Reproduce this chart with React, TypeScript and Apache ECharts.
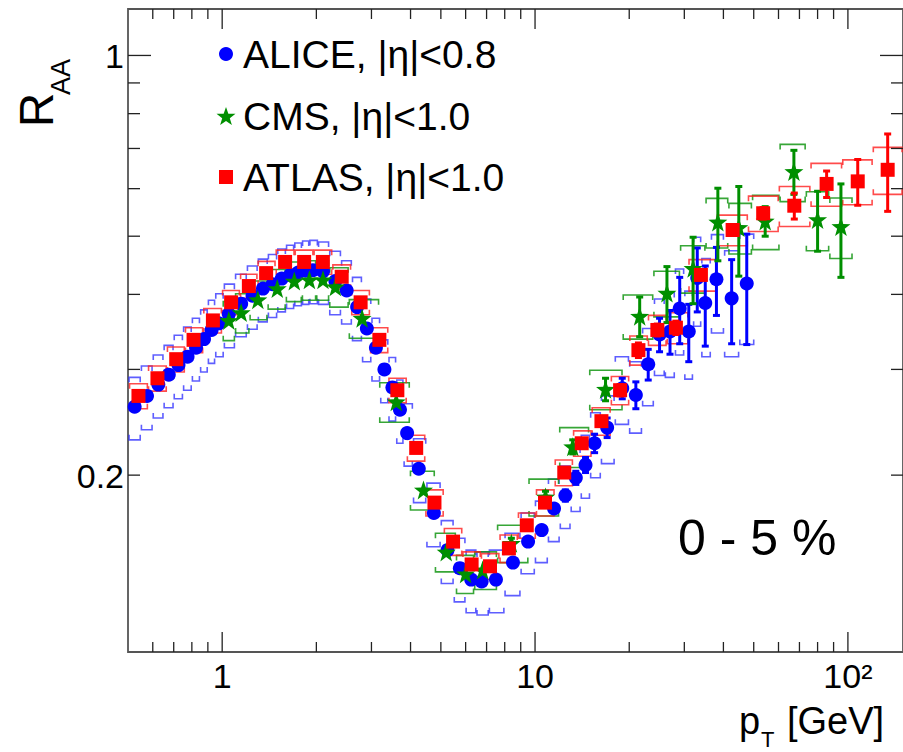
import React, { useEffect, useRef } from 'react';
import * as echarts from 'echarts';

const FONT = '"Liberation Sans", Arial, Helvetica, sans-serif';

// ---------------- data ----------------
const aliceName = 'ALICE, |η|<0.8';
const cmsName = 'CMS, |η|<1.0';
const atlasName = 'ATLAS, |η|<1.0';

const alicePt = [0.525, 0.575, 0.625, 0.675, 0.725, 0.775, 0.825, 0.875, 0.925, 0.975,
  1.05, 1.15, 1.25, 1.35, 1.45, 1.55, 1.65, 1.75, 1.85, 1.95,
  2.1, 2.3, 2.5, 2.7, 2.9, 3.1, 3.3, 3.5, 3.7, 3.9,
  4.25, 4.75, 5.25, 5.75, 6.25, 6.75,
  7.5, 8.5, 9.5, 10.5, 11.5, 12.5, 13.5, 14.5, 15.5,
  17, 19, 21, 23, 25, 27, 29, 31, 33, 35, 38, 42.5, 47.5];
const aliceRaa = [0.260, 0.271, 0.283, 0.294, 0.305, 0.315, 0.326, 0.337, 0.349, 0.358,
  0.371, 0.386, 0.398, 0.409, 0.416, 0.425, 0.431, 0.435, 0.438, 0.439,
  0.437, 0.421, 0.406, 0.381, 0.351, 0.326, 0.300, 0.280, 0.257, 0.235,
  0.205, 0.173, 0.150, 0.140, 0.134, 0.133,
  0.134, 0.143, 0.155, 0.162, 0.176, 0.185, 0.198, 0.208, 0.226,
  0.240, 0.279, 0.272, 0.306, 0.343, 0.347, 0.379, 0.347, 0.426, 0.387, 0.424, 0.394, 0.417];
const aliceStat = [0, 0, 0, 0, 0, 0, 0, 0, 0, 0,
  0, 0, 0, 0, 0, 0, 0, 0, 0, 0,
  0, 0, 0, 0, 0, 0, 0, 0, 0, 0,
  0, 0, 0, 0, 0, 0,
  0, 0, 0, 0, 0, 0.004, 0.005, 0.006, 0.008,
  0.009, 0.011, 0.014, 0.018, 0.022, 0.029, 0.048, 0.038, 0.052, 0.059, 0.055, 0.063, 0.087];
const aliceSys = [0.031, 0.033, 0.034, 0.035, 0.037, 0.038, 0.039, 0.040, 0.042, 0.043,
  0.045, 0.046, 0.048, 0.049, 0.050, 0.051, 0.052, 0.052, 0.053, 0.053,
  0.052, 0.051, 0.049, 0.046, 0.042, 0.039, 0.036, 0.034, 0.031, 0.028,
  0.025, 0.021, 0.018, 0.017, 0.016, 0.016,
  0.016, 0.017, 0.018, 0.019, 0.021, 0.022, 0.024, 0.025, 0.028,
  0.031, 0.036, 0.037, 0.045, 0.050, 0.056, 0.062, 0.058, 0.072, 0.072, 0.079, 0.079, 0.087];

const cmsPt = [1.05, 1.15, 1.3, 1.5, 1.7, 1.9, 2.1, 2.3, 2.8, 3.6, 4.4, 5.2, 6.0, 6.8,
  8.4, 10.8, 13.2, 16.8, 21.6, 26.4, 32, 38.4, 44.8, 54.4, 67.2, 80, 95];
const cmsRaa = [0.362, 0.373, 0.392, 0.409, 0.421, 0.423, 0.423, 0.412, 0.365, 0.265, 0.189, 0.149, 0.137, 0.139,
  0.154, 0.184, 0.223, 0.278, 0.368, 0.402, 0.442, 0.528, 0.517, 0.530, 0.641, 0.533, 0.519];
const cmsStat = [0, 0, 0, 0, 0, 0, 0, 0, 0, 0, 0, 0, 0, 0,
  0.003, 0.004, 0.006, 0.012, 0.028, 0.043, 0.056, 0.073, 0.088, 0.030, 0.054, 0.061, 0.092];
const cmsSys = [0.027, 0.028, 0.029, 0.031, 0.032, 0.032, 0.032, 0.031, 0.027, 0.020, 0.014, 0.011, 0.010, 0.010,
  0.011, 0.013, 0.017, 0.021, 0.031, 0.035, 0.040, 0.050, 0.050, 0.055, 0.070, 0.060, 0.060];

const atlasPt = [0.54, 0.621, 0.713, 0.81, 0.934, 1.068, 1.217, 1.382, 1.589, 1.828, 2.098, 2.41, 2.77, 3.18, 3.63,
  4.17, 4.77, 5.47, 6.27, 7.18, 8.25, 9.41, 10.76, 12.4, 14.1, 16.3, 18.7, 21.4, 24.6, 28.2, 33.9,
  42.8, 53.6, 67.4, 85.5, 107.5, 134];
const atlasRaa = [0.271, 0.290, 0.312, 0.336, 0.362, 0.388, 0.413, 0.434, 0.453, 0.453, 0.453, 0.428, 0.388, 0.336, 0.277,
  0.222, 0.180, 0.155, 0.142, 0.141, 0.151, 0.165, 0.180, 0.202, 0.226, 0.246, 0.277, 0.323, 0.349, 0.352, 0.431,
  0.512, 0.546, 0.562, 0.611, 0.617, 0.645];
const atlasStat = [0, 0, 0, 0, 0, 0, 0, 0, 0, 0, 0, 0, 0, 0, 0,
  0, 0, 0, 0, 0, 0, 0, 0, 0, 0, 0, 0.006, 0.009, 0.008, 0.009, 0.008,
  0.010, 0.012, 0.028, 0.031, 0.054, 0.095];
const atlasSys = [0.013, 0.014, 0.015, 0.016, 0.017, 0.018, 0.019, 0.020, 0.021, 0.021, 0.021, 0.020, 0.018, 0.016, 0.013,
  0.011, 0.009, 0.008, 0.007, 0.007, 0.008, 0.008, 0.009, 0.010, 0.011, 0.013, 0.015, 0.018, 0.020, 0.021, 0.026,
  0.030, 0.037, 0.043, 0.050, 0.053, 0.058];

const xMajorTicks = [1, 10, 100];
const xMinorTicks = [0.6, 0.7, 0.8, 0.9, 2, 3, 4, 5, 6, 7, 8, 9, 20, 30, 40, 50, 60, 70, 80, 90];
const xLabelValues = [1, 10, 100];
const xTickLabels = ['1', '10', '10²'];
const yMajorTicks = [1];
const yMinorTicks = [0.2, 0.3, 0.4, 0.5, 0.6, 0.7, 0.8, 0.9];
const yLabelValues = [0.2, 1];
const yTickLabels = ['0.2', '1'];

const X_MIN = 0.5, X_MAX = 150, Y_MIN = 0.1015, Y_MAX = 1.195;

const STAR = 'path://M0,-10 L2.35,-3.24 L9.51,-3.09 L3.8,1.24 L5.88,8.09 L0,4 L-5.88,8.09 L-3.8,1.24 L-9.51,-3.09 L-2.35,-3.24 Z';

const BLUE = '#0000ff', GREEN = '#008f00', RED = '#ff0000';
const BLUE_SYS = 'rgba(40,40,255,0.75)', GREEN_SYS = 'rgba(20,150,20,0.85)', RED_SYS = 'rgba(255,30,30,0.8)';

function edges(pts: number[]) {
  return pts.map((p, i) => {
    const prev = i > 0 ? pts[i - 1] : (p * p) / pts[i + 1];
    const next = i < pts.length - 1 ? pts[i + 1] : (p * p) / pts[i - 1];
    return [Math.sqrt(prev * p), Math.sqrt(p * next)];
  });
}

function sysData(pt: number[], r: number[], s: number[]) {
  const e = edges(pt);
  return pt.map((p, i) => [p, r[i], s[i], e[i][0], e[i][1]]);
}

function statData(pt: number[], r: number[], s: number[]) {
  return pt.map((p, i) => [p, r[i], s[i]]).filter((d) => d[2] > 0);
}

const makeSysRender = (color: string) => (params: any, api: any) => {
  const r = api.value(1), s = api.value(2), lo = api.value(3), hi = api.value(4);
  const a = api.coord([lo, r + s]), b = api.coord([hi, r + s]);
  const c = api.coord([lo, r - s]), d = api.coord([hi, r - s]);
  const leg = 5;
  const x0 = a[0] + 0.6, x1 = b[0] - 0.6;
  const st = { stroke: color, fill: 'none', lineWidth: 1.6 };
  return {
    type: 'group',
    children: [
      { type: 'polyline', shape: { points: [[x0, a[1] + leg], [x0, a[1]], [x1, b[1]], [x1, b[1] + leg]] }, style: st },
      { type: 'polyline', shape: { points: [[x0, c[1] - leg], [x0, c[1]], [x1, d[1]], [x1, d[1] - leg]] }, style: st },
    ],
  };
};

const makeStatRender = (color: string) => (params: any, api: any) => {
  const x = api.value(0), r = api.value(1), e = api.value(2);
  const t = api.coord([x, r + e]), b = api.coord([x, r - e]);
  const cap = 3.5;
  const st = { stroke: color, lineWidth: 3 };
  return {
    type: 'group',
    children: [
      { type: 'line', shape: { x1: t[0], y1: t[1], x2: b[0], y2: b[1] }, style: st },
      { type: 'line', shape: { x1: t[0] - cap, y1: t[1], x2: t[0] + cap, y2: t[1] }, style: st },
      { type: 'line', shape: { x1: b[0] - cap, y1: b[1], x2: b[0] + cap, y2: b[1] }, style: st },
    ],
  };
};

const TICK = { stroke: '#222', lineWidth: 1.3 };

const xTickRender = (params: any, api: any) => {
  const v = api.value(0), major = api.value(2);
  const b = api.coord([v, Y_MIN]), t = api.coord([v, Y_MAX]);
  const L = major ? 20 : 10;
  return {
    type: 'group',
    children: [
      { type: 'line', shape: { x1: b[0], y1: b[1], x2: b[0], y2: b[1] - L }, style: TICK },
      { type: 'line', shape: { x1: t[0], y1: t[1], x2: t[0], y2: t[1] + L }, style: TICK },
    ],
  };
};

const yTickRender = (params: any, api: any) => {
  const v = api.value(1), major = api.value(2);
  const l = api.coord([X_MIN, v]), r = api.coord([X_MAX, v]);
  const L = major ? 23 : 12;
  return {
    type: 'group',
    children: [
      { type: 'line', shape: { x1: l[0], y1: l[1], x2: l[0] + L, y2: l[1] }, style: TICK },
      { type: 'line', shape: { x1: r[0], y1: r[1], x2: r[0] - L, y2: r[1] }, style: TICK },
    ],
  };
};

const xLabelRender = (params: any, api: any) => {
  const p = api.coord([api.value(0), Y_MIN]);
  return {
    type: 'text', x: p[0], y: p[1] + 24,
    style: {
      text: xTickLabels[params.dataIndex], fontSize: 34, fontFamily: FONT, fill: '#000',
      align: 'center', verticalAlign: 'middle', textAlign: 'center', textVerticalAlign: 'middle',
    },
  };
};

const yLabelRender = (params: any, api: any) => {
  const p = api.coord([X_MIN, api.value(1)]);
  return {
    type: 'text', x: p[0] - 4, y: p[1] + 1,
    style: {
      text: yTickLabels[params.dataIndex], fontSize: 34, fontFamily: FONT, fill: '#000',
      align: 'right', verticalAlign: 'middle', textAlign: 'right', textVerticalAlign: 'middle',
    },
  };
};

function txt(text: string, x: number, y: number, size: number, align = 'left', rotation = 0) {
  return {
    type: 'text', x, y, rotation, silent: true,
    style: {
      text, fontSize: size, fontFamily: FONT, fill: '#000',
      align, verticalAlign: 'middle', textAlign: align, textVerticalAlign: 'middle',
    },
  };
}

function legendEntry(name: string, icon: string, size: number, top: number) {
  return {
    orient: 'vertical', left: 221 - size / 2, top, itemWidth: size, itemHeight: size,
    selectedMode: false,
    textStyle: { fontSize: 39, fontFamily: FONT, color: '#000', lineHeight: 40, padding: [0, 0, 0, Math.max(0, 12 - size / 2)] },
    data: [{ name, icon }],
  };
}

export default function App() {
  const ref = useRef<HTMLDivElement>(null);
  useEffect(() => {
    if (!ref.current) return;
    const chart = echarts.init(ref.current, null, { renderer: 'svg' });
    const custom = (data: any[], renderItem: any, z: number, clip = true) => ({
      type: 'custom', coordinateSystem: 'cartesian2d', data, renderItem, z, clip, silent: true,
      encode: { x: 0, y: 1 },
    });
    const option: any = {
      animation: false,
      backgroundColor: '#ffffff',
      textStyle: { fontFamily: FONT },
      grid: { left: 128, top: 9, width: 776, height: 643, show: true, borderColor: '#555', borderWidth: 1.8, backgroundColor: 'transparent' },
      xAxis: { type: 'log', logBase: 10, min: X_MIN, max: X_MAX, show: false },
      yAxis: { type: 'log', logBase: 10, min: Y_MIN, max: Y_MAX, show: false },
      legend: [
        legendEntry(aliceName, 'circle', 14, 29),
        legendEntry(cmsName, STAR, 19, 91),
        legendEntry(atlasName, 'rect', 14, 152),
      ],
      graphic: [
        txt('0 - 5 %', 678, 538, 50),
        txt('p', 739, 721, 38),
        txt('T', 761, 739, 22),
        txt('[GeV]', 787, 721, 38),
        txt('R', 36, 110, 48, 'center', Math.PI / 2),
        txt('AA', 61, 77, 27, 'center', Math.PI / 2),
      ],
      series: [
        custom(sysData(alicePt, aliceRaa, aliceSys), makeSysRender(BLUE_SYS), 2),
        custom(sysData(cmsPt, cmsRaa, cmsSys), makeSysRender(GREEN_SYS), 2),
        custom(sysData(atlasPt, atlasRaa, atlasSys), makeSysRender(RED_SYS), 2),
        custom(statData(alicePt, aliceRaa, aliceStat), makeStatRender(BLUE), 3),
        {
          type: 'scatter', name: aliceName, z: 3, symbol: 'circle', symbolSize: 14,
          itemStyle: { color: BLUE, opacity: 1 }, silent: true,
          data: alicePt.map((p, i) => [p, aliceRaa[i]]),
        },
        custom(statData(cmsPt, cmsRaa, cmsStat), makeStatRender(GREEN), 4),
        {
          type: 'scatter', name: cmsName, z: 4, symbol: STAR, symbolSize: 19,
          itemStyle: { color: GREEN, opacity: 1 }, silent: true,
          data: cmsPt.map((p, i) => [p, cmsRaa[i]]),
        },
        custom(statData(atlasPt, atlasRaa, atlasStat), makeStatRender(RED), 5),
        {
          type: 'scatter', name: atlasName, z: 5, symbol: 'rect', symbolSize: 14,
          itemStyle: { color: RED, opacity: 1 }, silent: true,
          data: atlasPt.map((p, i) => [p, atlasRaa[i]]),
        },
        custom([...xMajorTicks.map((v) => [v, Y_MIN, 1]), ...xMinorTicks.map((v) => [v, Y_MIN, 0])], xTickRender, 6, false),
        custom([...yMajorTicks.map((v) => [X_MIN, v, 1]), ...yMinorTicks.map((v) => [X_MIN, v, 0])], yTickRender, 6, false),
        custom(xLabelValues.map((v) => [v, Y_MIN]), xLabelRender, 6, false),
        custom(yLabelValues.map((v) => [X_MIN, v]), yLabelRender, 6, false),
      ],
    };
    chart.setOption(option);
    return () => chart.dispose();
  }, []);
  return (
    <div
      ref={ref}
      style={{ position: 'fixed', left: 0, top: 0, width: 903, height: 752, background: '#fff' }}
    />
  );
}
